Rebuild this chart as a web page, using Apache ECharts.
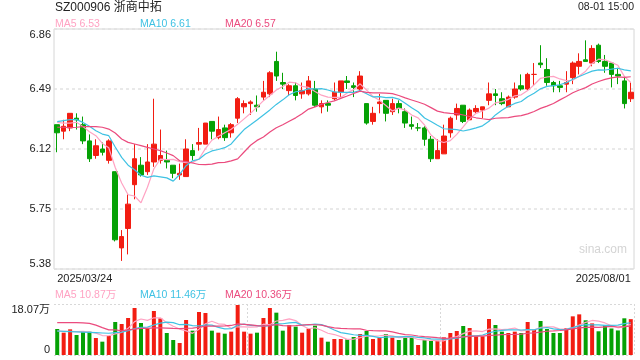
<!DOCTYPE html>
<html><head><meta charset="utf-8">
<script src="https://cdn.jsdelivr.net/npm/echarts@6/dist/echarts.min.js"></script>
<style>html,body{margin:0;padding:0;background:#fff}#c{width:640px;height:360px}</style>
</head><body><div id="c"></div>
<script>
const dates = ['2025/03/24','2025/03/25','2025/03/26','2025/03/27','2025/03/28','2025/03/31',
'2025/04/01','2025/04/02','2025/04/03','2025/04/07','2025/04/08','2025/04/09','2025/04/10','2025/04/11',
'2025/04/14','2025/04/15','2025/04/16','2025/04/17','2025/04/18','2025/04/21','2025/04/22','2025/04/23',
'2025/04/24','2025/04/25','2025/04/28','2025/04/29','2025/04/30',
'2025/05/06','2025/05/07','2025/05/08','2025/05/09','2025/05/12','2025/05/13','2025/05/14','2025/05/15',
'2025/05/16','2025/05/19','2025/05/20','2025/05/21','2025/05/22','2025/05/23','2025/05/26','2025/05/27',
'2025/05/28','2025/05/29','2025/05/30',
'2025/06/03','2025/06/04','2025/06/05','2025/06/06','2025/06/09','2025/06/10','2025/06/11','2025/06/12',
'2025/06/13','2025/06/16','2025/06/17','2025/06/18','2025/06/19','2025/06/20','2025/06/23','2025/06/24',
'2025/06/25','2025/06/26','2025/06/27','2025/06/30',
'2025/07/01','2025/07/02','2025/07/03','2025/07/04','2025/07/07','2025/07/08','2025/07/09','2025/07/10',
'2025/07/11','2025/07/14','2025/07/15','2025/07/16','2025/07/17','2025/07/18','2025/07/21','2025/07/22',
'2025/07/23','2025/07/24','2025/07/25','2025/07/28','2025/07/29','2025/07/30','2025/07/31','2025/08/01'];

const opens = [6.27,6.23,6.25,6.31,6.27,6.17,6.08,6.12,6.05,5.98,5.51,5.63,5.90,6.02,5.98,6.04,6.05,6.05,6.02,5.96,
5.95,6.11,6.15,6.15,6.29,6.19,6.25,6.22,6.31,6.38,6.40,6.39,6.44,6.46,6.66,6.53,6.48,6.51,6.46,6.46,
6.49,6.38,6.40,6.43,6.47,6.54,6.51,6.49,6.40,6.29,6.40,6.42,6.35,6.40,6.35,6.27,6.25,6.25,6.18,6.06,
6.09,6.22,6.33,6.39,6.30,6.35,6.36,6.42,6.46,6.43,6.38,6.44,6.51,6.49,6.58,6.65,6.61,6.53,6.51,6.52,
6.56,6.63,6.67,6.65,6.76,6.66,6.65,6.58,6.54,6.43];
const closes = [6.22,6.26,6.34,6.30,6.17,6.06,6.14,6.10,6.17,5.56,5.58,5.78,6.06,5.96,6.04,6.15,6.08,6.04,5.97,5.97,
6.12,6.08,6.16,6.28,6.23,6.24,6.19,6.27,6.43,6.40,6.41,6.38,6.47,6.59,6.57,6.52,6.51,6.45,6.48,6.54,
6.39,6.40,6.39,6.47,6.54,6.53,6.50,6.57,6.28,6.34,6.41,6.34,6.40,6.37,6.28,6.26,6.25,6.18,6.06,6.11,
6.20,6.31,6.37,6.29,6.36,6.37,6.38,6.46,6.45,6.40,6.44,6.49,6.49,6.58,6.58,6.64,6.53,6.51,6.50,6.53,
6.65,6.66,6.66,6.74,6.66,6.63,6.58,6.57,6.40,6.47];
const lows = [6.10,6.18,6.23,6.24,6.15,6.04,6.06,6.08,6.03,5.55,5.43,5.47,5.81,5.95,5.96,6.01,6.03,6.00,5.94,5.93,
5.95,6.05,6.11,6.15,6.18,6.18,6.17,6.19,6.28,6.34,6.33,6.35,6.42,6.44,6.54,6.49,6.45,6.42,6.43,6.45,
6.38,6.34,6.35,6.42,6.44,6.49,6.44,6.48,6.27,6.27,6.34,6.29,6.33,6.34,6.25,6.24,6.23,6.14,6.04,6.06,
6.09,6.19,6.30,6.28,6.30,6.34,6.31,6.39,6.39,6.39,6.38,6.43,6.48,6.48,6.51,6.62,6.51,6.47,6.47,6.47,
6.52,6.58,6.66,6.63,6.65,6.59,6.50,6.52,6.37,6.41];
const highs = [6.27,6.30,6.34,6.34,6.32,6.21,6.18,6.16,6.18,5.98,5.62,5.84,6.15,6.07,6.15,6.43,6.24,6.11,6.02,6.03,
6.18,6.15,6.25,6.28,6.29,6.32,6.27,6.28,6.44,6.42,6.42,6.45,6.54,6.60,6.72,6.59,6.52,6.53,6.53,6.57,
6.54,6.42,6.42,6.53,6.54,6.57,6.53,6.60,6.40,6.38,6.46,6.42,6.43,6.42,6.37,6.32,6.28,6.26,6.20,6.18,
6.27,6.32,6.40,6.39,6.37,6.39,6.38,6.53,6.49,6.47,6.45,6.53,6.58,6.59,6.65,6.76,6.68,6.54,6.54,6.60,
6.66,6.71,6.79,6.76,6.77,6.70,6.65,6.62,6.57,6.53];
// volume, 万手
const volumes = [9.21,7.91,9.09,7.09,8.39,8.27,6.02,4.72,6.73,11.69,10.98,13.11,16.65,11.34,9.33,15.59,12.99,7.79,5.31,4.25,
12.40,8.62,15.23,14.88,8.62,7.91,7.56,8.27,17.72,8.27,7.56,7.91,13.11,16.65,15.00,8.62,10.63,10.04,7.91,9.33,
10.39,6.14,4.72,5.67,5.67,5.55,6.38,7.44,8.50,5.67,6.14,7.44,6.14,5.31,6.26,6.26,3.54,5.31,4.96,5.08,
6.26,7.79,8.50,10.27,9.57,6.61,6.61,12.75,10.63,8.27,7.79,8.27,7.79,11.69,8.98,12.05,9.21,7.79,7.79,9.57,
13.70,14.40,12.30,11.20,8.40,10.50,9.40,8.70,13.00,12.70];

// MA values before enough in-window closes exist
const ma5Head = [6.284, 6.28, 6.28, 6.285];
const ma10Head = [6.289, 6.295, 6.301, 6.301, 6.284, 6.26, 6.233, 6.212, 6.202];
const ma20Head = [6.254, 6.254, 6.252, 6.254, 6.258, 6.258, 6.258, 6.254, 6.243, 6.219, 6.182, 6.161, 6.151, 6.141, 6.130, 6.12, 6.11, 6.095, 6.079];
const volMa5Head = [8.5, 8.4, 8.4, 8.3];
const volMa10Head = [8.5, 8.4, 8.3, 8.2, 8.1, 8.0, 7.9, 7.8, 7.7];
const volMa20Head = [11.5, 11.5, 11.5, 11.5, 11.4, 11.2, 10.6, 9.7, 8.9, 8.9, 8.6, 8.9, 9.2, 9.4, 9.4, 9.6, 9.6, 9.5, 9.4];

const priceTicks = [5.38, 5.75, 6.12, 6.49, 6.86];
const volMax = 18.07;
const titleText = 'SZ000906 浙商中拓';
const timeText = '08-01 15:00';
const priceLegend = ['MA5 6.53', 'MA10 6.61', 'MA20 6.57'];
const volLegend = ['MA5 10.87万', 'MA10 11.46万', 'MA20 10.36万'];

const UP = '#f21d12', DOWN = '#05a105';
const MA_COLORS = ['#ffa3c3', '#3fc2e3', '#eb4b7e'];
const FONT = 'Arial, "Liberation Sans", "Noto Sans CJK SC", sans-serif';

function movingAvg(vals, n, head) {
  return vals.map((v, i) => {
    if (i < n - 1) return head[i];
    let s = 0;
    for (let k = i - n + 1; k <= i; k++) s += vals[k];
    return +(s / n).toFixed(4);
  });
}

const kData = dates.map((d, i) => [opens[i], closes[i], lows[i], highs[i]]);
const volData = volumes.map((v, i) => ({ value: v, itemStyle: { color: closes[i] >= opens[i] ? UP : DOWN } }));

const lineSeries = (name, data, color, xi, yi) => ({
  name, type: 'line', data, xAxisIndex: xi, yAxisIndex: yi, showSymbol: false, symbol: 'none',
  lineStyle: { width: 1.2, color }, itemStyle: { color }, silent: true, animation: false, z: 5
});

const chart = echarts.init(document.getElementById('c'), null, { renderer: 'canvas' });
const last = dates.length - 1;
chart.setOption({
  animation: false,
  textStyle: { fontFamily: FONT },
  grid: [
    { left: 54, width: 580, top: 29, height: 240, show: true, borderColor: '#d6d6d6', borderWidth: 1 },
    { left: 54, width: 580, top: 304, height: 51, show: false }
  ],
  xAxis: [
    { type: 'category', gridIndex: 0, data: dates, boundaryGap: true,
      axisLine: { show: false }, axisTick: { show: false }, splitLine: { show: false },
      axisLabel: { show: true, interval: (i) => i === 0 || i === last, fontSize: 11, color: '#222', margin: 4,
        fontFamily: FONT, alignMinLabel: 'left', alignMaxLabel: 'right', showMinLabel: true, showMaxLabel: true } },
    { type: 'category', gridIndex: 1, data: dates, boundaryGap: true,
      axisLine: { show: false }, axisTick: { show: false }, axisLabel: { show: false },
      splitLine: { show: true, interval: (i) => i === 30 || i === 60, lineStyle: { color: '#d8d8d8', type: [2, 2], width: 1 } } }
  ],
  yAxis: [
    { type: 'value', gridIndex: 0, min: priceTicks[0], max: priceTicks[priceTicks.length - 1], interval: 0.37,
      axisLine: { show: false }, axisTick: { show: false },
      splitLine: { show: true, lineStyle: { color: '#e2e2e2', type: [3, 3], width: 1.5 } },
      axisLabel: { fontSize: 11, color: '#222', margin: 3, fontFamily: FONT, formatter: (v) => v.toFixed(2),
        verticalAlignMinLabel: 'bottom', verticalAlignMaxLabel: 'top' } },
    { type: 'value', gridIndex: 1, min: 0, max: volMax, interval: volMax,
      axisLine: { show: false }, axisTick: { show: false },
      splitLine: { show: true, lineStyle: { color: '#d8d8d8', type: [2, 2], width: 1 } },
      axisLabel: { fontSize: 11, color: '#222', margin: 4, fontFamily: FONT,
        formatter: (v) => v === 0 ? '0' : v.toFixed(2) + '万',
        verticalAlignMinLabel: 'bottom', verticalAlignMaxLabel: 'top' } }
  ],
  series: [
    { type: 'candlestick', xAxisIndex: 0, yAxisIndex: 0, data: kData, barWidth: 5,
      itemStyle: { color: UP, color0: DOWN, borderColor: UP, borderColor0: DOWN, borderWidth: 1 } },
    lineSeries('MA5', movingAvg(closes, 5, ma5Head), MA_COLORS[0], 0, 0),
    lineSeries('MA10', movingAvg(closes, 10, ma10Head), MA_COLORS[1], 0, 0),
    lineSeries('MA20', movingAvg(closes, 20, ma20Head), MA_COLORS[2], 0, 0),
    { type: 'bar', xAxisIndex: 1, yAxisIndex: 1, data: volData, barWidth: 4 },
    lineSeries('VMA5', movingAvg(volumes, 5, volMa5Head), MA_COLORS[0], 1, 1),
    lineSeries('VMA10', movingAvg(volumes, 10, volMa10Head), MA_COLORS[1], 1, 1),
    lineSeries('VMA20', movingAvg(volumes, 20, volMa20Head), MA_COLORS[2], 1, 1)
  ],
  graphic: [
    { type: 'text', x: 55, y: 8, style: { text: titleText, fill: '#222', font: '12px ' + FONT, align: 'left', verticalAlign: 'middle' } },
    { type: 'text', x: 634, y: 7, style: { text: timeText, fill: '#222', font: '10.5px ' + FONT, align: 'right', verticalAlign: 'middle' } },
    ...priceLegend.map((t, k) => ({ type: 'text', x: 55 + 85 * k, y: 24, style: { text: t, fill: MA_COLORS[k], font: '10.5px ' + FONT, align: 'left', verticalAlign: 'middle' } })),
    ...volLegend.map((t, k) => ({ type: 'text', x: 55 + 85 * k, y: 295, style: { text: t, fill: MA_COLORS[k], font: '10.5px ' + FONT, align: 'left', verticalAlign: 'middle' } })),
    { type: 'text', x: 603, y: 250, z: 0, style: { text: 'sina.com', fill: '#d4d4d4', font: '12px ' + FONT, align: 'center', verticalAlign: 'middle' } }
  ]
});
</script></body></html>
